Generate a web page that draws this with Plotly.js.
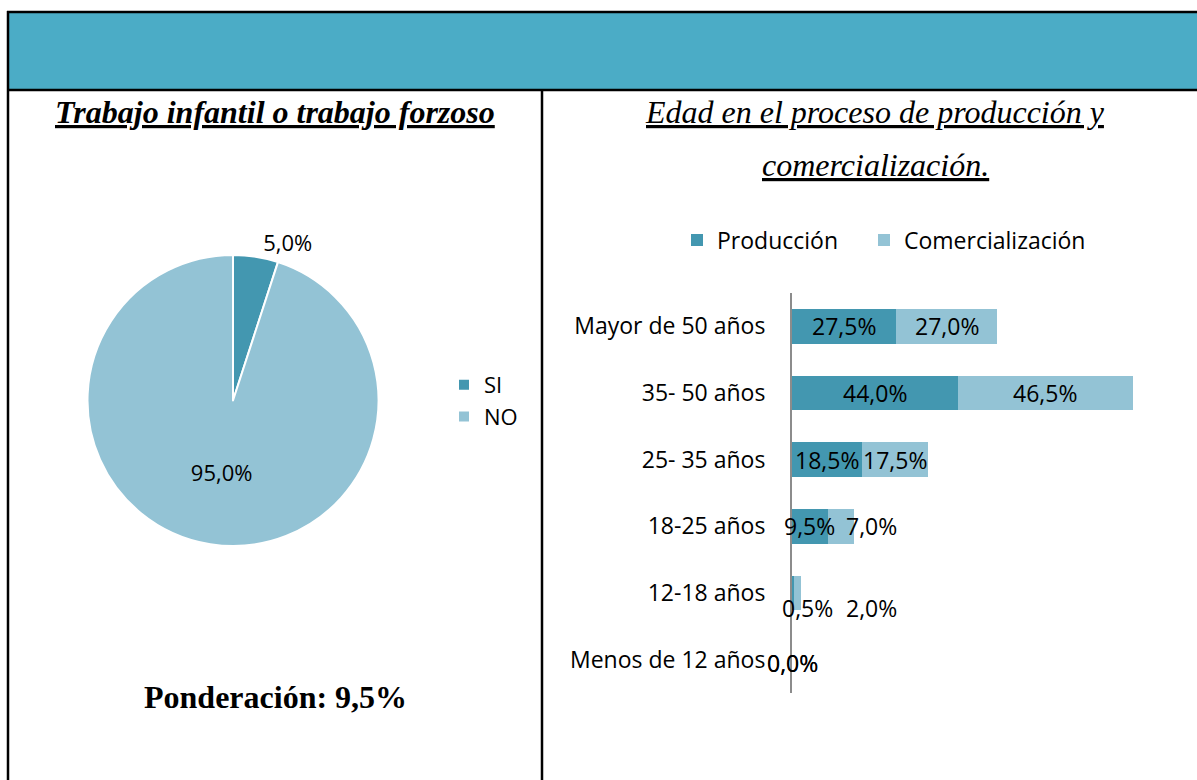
<!DOCTYPE html>
<html>
<head>
<meta charset="utf-8">
<script src="https://cdn.plot.ly/plotly-3.0.1.min.js"></script>
<style>html,body{margin:0;padding:0;background:#fff}#chart{width:1197px;height:780px}</style>
</head>
<body>
<div id="chart"></div>
<script>
// ---- data ----
const pieLabels = ["SI", "NO"];
const pieValues = [5.0, 95.0];
const pieText = ["5,0%", "95,0%"];

const ageCategories = ["Mayor de 50 años", "35- 50 años", "25- 35 años", "18-25 años", "12-18 años", "Menos de 12 años"];
const produccion = [27.5, 44.0, 18.5, 9.5, 0.5, 0.0];
const comercializacion = [27.0, 46.5, 17.5, 7.0, 2.0, 0.0];
const seriesNames = ["Producción", "Comercialización"];

const leftTitle = "Trabajo infantil o trabajo forzoso";
const rightTitle1 = "Edad en el proceso de producción y";
const rightTitle2 = "comercialización.";
const weightText = "Ponderación: 9,5%";

// ---- style ----
const W = 1197, H = 780;
const px = x => x / W;
const py = y => 1 - y / H;
const cProd = "#4397B0";
const cCom = "#93C3D5";
const sansFont = "Open Sans";
const sansSize = 23;
const fmt = v => v.toFixed(1).replace(".", ",") + "%";

const traces = [
  {
    type: "pie",
    labels: pieLabels,
    values: pieValues,
    text: pieText,
    textinfo: "text",
    textposition: ["outside", "inside"],
    insidetextorientation: "horizontal",
    sort: false,
    direction: "clockwise",
    rotation: 0,
    marker: {colors: [cProd, cCom], line: {color: "#ffffff", width: 2}},
    textfont: {family: sansFont, size: 22, color: "#000"},
    domain: {x: [px(87), px(379)], y: [py(546), py(255)]},
    legend: "legend",
    hoverinfo: "label+percent"
  },
  {
    type: "bar",
    orientation: "h",
    name: seriesNames[0],
    y: ageCategories,
    x: produccion,
    marker: {color: cProd},
    width: 0.52,
    xaxis: "x", yaxis: "y",
    legend: "legend2"
  },
  {
    type: "bar",
    orientation: "h",
    name: seriesNames[1],
    y: ageCategories,
    x: comercializacion,
    marker: {color: cCom},
    width: 0.52,
    xaxis: "x", yaxis: "y",
    legend: "legend3"
  }
];

// bar data labels (positioned from data, with label offsets)
const offsets = {
  "18-25 años": {com: [31, 0]},
  "12-18 años": {prod: [15, -15], com: [74, -15]},
  "Menos de 12 años": {prod: [0, -3], com: [0, -3]}
};
const annotations = [];
ageCategories.forEach((cat, i) => {
  const o = offsets[cat] || {};
  const p = o.prod || [0, 0];
  const c = o.com || [0, 0];
  annotations.push({
    xref: "x", yref: "y", x: produccion[i] / 2, y: cat, text: fmt(produccion[i]),
    showarrow: false, xshift: p[0], yshift: p[1],
    font: {family: sansFont, size: sansSize, color: "#000"}
  });
  annotations.push({
    xref: "x", yref: "y", x: produccion[i] + comercializacion[i] / 2, y: cat, text: fmt(comercializacion[i]),
    showarrow: false, xshift: c[0], yshift: c[1],
    font: {family: sansFont, size: sansSize, color: "#000"}
  });
});

annotations.push(
  {xref: "paper", yref: "paper", x: px(275), y: py(112), xanchor: "center", yanchor: "middle",
   text: "<b><i><u>" + leftTitle + "</u></i></b>", showarrow: false,
   font: {family: "Liberation Serif", size: 32, color: "#000"}},
  {xref: "paper", yref: "paper", x: px(875), y: py(112), xanchor: "center", yanchor: "middle",
   text: "<i><u>" + rightTitle1 + "</u></i>", showarrow: false,
   font: {family: "Liberation Serif", size: 32, color: "#000"}},
  {xref: "paper", yref: "paper", x: px(875), y: py(165), xanchor: "center", yanchor: "middle",
   text: "<i><u>" + rightTitle2 + "</u></i>", showarrow: false,
   font: {family: "Liberation Serif", size: 32, color: "#000"}},
  {xref: "paper", yref: "paper", x: px(275), y: py(697), xanchor: "center", yanchor: "middle",
   text: "<b>" + weightText + "</b>", showarrow: false,
   font: {family: "Liberation Serif", size: 32, color: "#000"}}
);

const shapes = [
  {type: "rect", xref: "paper", yref: "paper", x0: px(8), x1: px(1200), y0: py(90), y1: py(12),
   fillcolor: "#4BACC6", line: {width: 0}, layer: "below"},
  {type: "line", xref: "paper", yref: "paper", x0: px(7), x1: px(1200), y0: py(12), y1: py(12), line: {color: "#000", width: 2.5}},
  {type: "line", xref: "paper", yref: "paper", x0: px(7), x1: px(1200), y0: py(90), y1: py(90), line: {color: "#000", width: 2.5}},
  {type: "line", xref: "paper", yref: "paper", x0: px(8), x1: px(8), y0: py(11), y1: py(785), line: {color: "#000", width: 2.5}},
  {type: "line", xref: "paper", yref: "paper", x0: px(542), x1: px(542), y0: py(90), y1: py(785), line: {color: "#000", width: 2.5}}
];

const legendFont = {family: sansFont, size: 23, color: "#000"};
const layout = {
  width: W, height: H,
  margin: {l: 0, r: 0, t: 0, b: 0},
  paper_bgcolor: "#ffffff",
  plot_bgcolor: "rgba(0,0,0,0)",
  barmode: "stack",
  showlegend: true,
  font: {family: sansFont, color: "#000"},
  xaxis: {
    domain: [px(792), px(1150)], range: [0, 95],
    showgrid: false, zeroline: false, showticklabels: false, showline: false, fixedrange: true
  },
  yaxis: {
    domain: [py(693), py(293)], autorange: "reversed", type: "category",
    showgrid: false, zeroline: false, showline: true, linecolor: "#8c8c8c", linewidth: 2,
    ticks: "", ticklabelstandoff: 20,
    tickfont: {family: sansFont, size: sansSize, color: "#000"}, fixedrange: true
  },
  legend: {
    x: px(444), y: py(364), xanchor: "left", yanchor: "top",
    orientation: "v", font: {family: sansFont, size: 22, color: "#000"},
    bgcolor: "rgba(0,0,0,0)"
  },
  legend2: {
    x: px(677), y: py(240), xanchor: "left", yanchor: "middle",
    orientation: "h", font: legendFont, bgcolor: "rgba(0,0,0,0)"
  },
  legend3: {
    x: px(864), y: py(240), xanchor: "left", yanchor: "middle",
    orientation: "h", font: legendFont, bgcolor: "rgba(0,0,0,0)"
  },
  annotations: annotations,
  shapes: shapes
};

Plotly.newPlot("chart", traces, layout, {displayModeBar: false, staticPlot: true});
</script>
</body>
</html>
